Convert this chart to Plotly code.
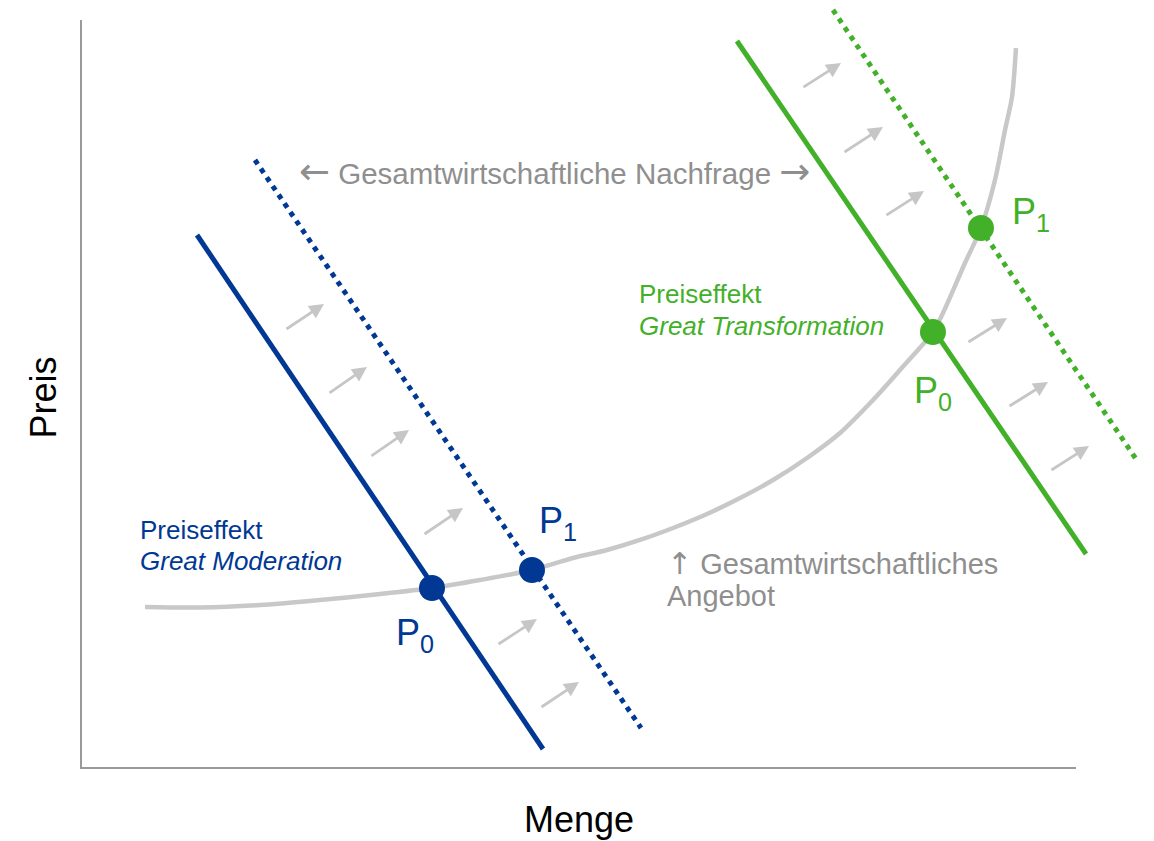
import plotly.graph_objects as go

# ---- colours -------------------------------------------------------------
BLUE = "#003893"
GREEN = "#43b02a"
CURVE_GREY = "#c8c8c8"
ARROW_GREY = "#c6c6c6"
TEXT_GREY = "#8f8f8f"
AXIS_GREY = "#9a9a9a"
FONT = "Arial, Liberation Sans, sans-serif"
ARROW_FONT = "DejaVu Sans"

# ---- aggregate supply curve (Menge, Preis) -------------------------------
supply_x = [6.34, 11.87, 17.91, 23.94, 29.98, 35.21, 40.04, 45.27, 49.40, 52.82,
            56.14, 59.46, 62.88, 66.20, 69.52, 72.94, 76.26, 79.58, 82.29, 85.61,
            86.62, 88.83, 90.44, 91.85, 92.86, 93.56, 93.96]
supply_y = [21.25, 21.18, 21.51, 22.18, 22.97, 23.77, 24.83, 26.16, 27.76, 28.82,
            30.15, 31.74, 33.60, 35.72, 38.11, 41.04, 44.36, 48.74, 52.72, 57.77,
            60.29, 66.93, 71.58, 77.95, 84.59, 88.98, 95.48]

# ---- aggregate demand lines (start / end) --------------------------------
blue_d0_x = [11.57, 46.38]
blue_d0_y = [70.65, 2.39]
blue_d1_x = [17.40, 56.24]
blue_d1_y = [80.61, 5.18]
green_d0_x = [65.89, 101.01]
green_d0_y = [96.41, 28.29]
green_d1_x = [75.55, 106.04]
green_d1_y = [100.53, 40.90]

# ---- equilibrium points P0 / P1 -------------------------------------------
blue_pts_x = [35.21, 45.27]
blue_pts_y = [23.77, 26.16]
green_pts_x = [85.61, 90.44]
green_pts_y = [57.77, 71.58]

# ---- shift arrows (tail -> head) -----------------------------------------
blue_arrow_tail_x = [20.42, 24.75, 28.97, 34.31, 41.75, 46.08]
blue_arrow_tail_y = [58.03, 49.54, 41.17, 30.81, 16.20, 7.84]
blue_arrow_head_x = [24.35, 28.67, 32.90, 38.33, 45.77, 50.00]
blue_arrow_head_y = [61.49, 53.12, 44.75, 34.40, 19.65, 11.29]
green_arrow_tail_x = [72.43, 76.56, 80.78, 89.03, 93.16, 97.38]
green_arrow_tail_y = [90.17, 81.54, 73.17, 56.31, 47.81, 39.31]
green_arrow_head_x = [76.36, 80.58, 84.71, 93.06, 97.18, 101.31]
green_arrow_head_y = [93.49, 84.99, 76.49, 59.63, 51.13, 42.63]

# ---- point labels ---------------------------------------------------------
point_labels = ["P<sub>0</sub>", "P<sub>1</sub>", "P<sub>0</sub>", "P<sub>1</sub>"]
point_label_x = [31.39, 45.78, 83.50, 93.36]
point_label_y = [17.55, 32.42, 49.68, 73.45]
point_label_colors = [BLUE, BLUE, GREEN, GREEN]

fig = go.Figure()

fig.add_trace(go.Scatter(x=supply_x, y=supply_y, mode="lines",
                         line=dict(color=CURVE_GREY, width=4.5, shape="spline", smoothing=0.8),
                         hoverinfo="skip", showlegend=False))

for xs, ys, col, dash in [(blue_d0_x, blue_d0_y, BLUE, "solid"),
                          (blue_d1_x, blue_d1_y, BLUE, "5px,5.5px"),
                          (green_d0_x, green_d0_y, GREEN, "solid"),
                          (green_d1_x, green_d1_y, GREEN, "5px,5.5px")]:
    fig.add_trace(go.Scatter(x=xs, y=ys, mode="lines",
                             line=dict(color=col, width=5, dash=dash),
                             hoverinfo="skip", showlegend=False))

fig.add_trace(go.Scatter(x=blue_pts_x, y=blue_pts_y, mode="markers",
                         marker=dict(color=BLUE, size=26), hoverinfo="skip", showlegend=False))
fig.add_trace(go.Scatter(x=green_pts_x, y=green_pts_y, mode="markers",
                         marker=dict(color=GREEN, size=26), hoverinfo="skip", showlegend=False))

# empty trace so the Menge / Preis axis frame gets drawn
fig.add_trace(go.Scatter(x=[None], y=[None], xaxis="x2", yaxis="y2", mode="lines",
                         hoverinfo="skip", showlegend=False))

annotations = []

# shift arrows
for tx, ty, hx, hy in list(zip(blue_arrow_tail_x, blue_arrow_tail_y, blue_arrow_head_x, blue_arrow_head_y)) + \
                      list(zip(green_arrow_tail_x, green_arrow_tail_y, green_arrow_head_x, green_arrow_head_y)):
    annotations.append(dict(x=hx, y=hy, ax=tx, ay=ty, xref="x", yref="y", axref="x", ayref="y",
                            text="", showarrow=True, arrowhead=2, arrowsize=1.05, arrowwidth=2.8,
                            arrowcolor=ARROW_GREY, standoff=0, startstandoff=0))

# P labels
for txt, lx, ly, col in zip(point_labels, point_label_x, point_label_y, point_label_colors):
    annotations.append(dict(x=lx, y=ly, xref="x", yref="y", text=txt, showarrow=False,
                            xanchor="left", yanchor="middle",
                            font=dict(family=FONT, size=36, color=col)))

# descriptive labels
def label(text, x, y, color, size, xanchor="left"):
    annotations.append(dict(x=x, y=y, xref="x", yref="y", text=text, showarrow=False,
                            xanchor=xanchor, yanchor="middle",
                            font=dict(family=FONT, size=size, color=color)))

def arrow_glyph(ch, size):
    return '<span style="font-family:%s;font-size:%dpx">%s</span>' % (ARROW_FONT, size, ch)

label("Preiseffekt", 5.64, 31.47, BLUE, 26)
label("<i>Great Moderation</i>", 5.64, 27.36, BLUE, 26)
label("Preiseffekt", 55.84, 62.82, GREEN, 26)
label("<i>Great Transformation</i>", 55.84, 58.57, GREEN, 26)
label(arrow_glyph("\u2190", 37) + " Gesamtwirtschaftliche Nachfrage " + arrow_glyph("\u2192", 37),
      47.53, 79.05, TEXT_GREY, 29.5, xanchor="center")
label(arrow_glyph("\u2191", 30) + " Gesamtwirtschaftliches", 58.65, 26.96, TEXT_GREY, 29)
label("Angebot", 58.65, 22.70, TEXT_GREY, 29)

# axis titles
annotations.append(dict(x=50, y=-6.97, xref="x", yref="y", text="Menge", showarrow=False,
                        xanchor="center", yanchor="middle",
                        font=dict(family=FONT, size=36, color="#000000")))
annotations.append(dict(x=-3.97, y=49.0, xref="x", yref="y", text="Preis", showarrow=False,
                        textangle=-90, xanchor="center", yanchor="middle",
                        font=dict(family=FONT, size=36, color="#000000")))

W, H = 1154, 841
fig.update_layout(
    width=W, height=H,
    margin=dict(l=0, r=0, t=0, b=0),
    paper_bgcolor="white", plot_bgcolor="rgba(0,0,0,0)",
    showlegend=False,
    annotations=annotations,
    # data axes span the whole canvas so long demand lines are not clipped
    xaxis=dict(domain=[0, 1], range=[-8.249, 107.847], visible=False, fixedrange=True),
    yaxis=dict(domain=[0, 1], range=[-9.827, 101.859], visible=False, fixedrange=True),
    # visible Menge / Preis axes
    xaxis2=dict(domain=[82 / W, 1076 / W], anchor="y2", range=[0, 100],
                showline=True, linecolor=AXIS_GREY, linewidth=2,
                showticklabels=False, ticks="", showgrid=False, zeroline=False, fixedrange=True),
    yaxis2=dict(domain=[(H - 767) / H, (H - 20) / H], anchor="x2", range=[0, 99.2],
                showline=True, linecolor=AXIS_GREY, linewidth=2,
                showticklabels=False, ticks="", showgrid=False, zeroline=False, fixedrange=True),
)

fig.write_html("out.html")
